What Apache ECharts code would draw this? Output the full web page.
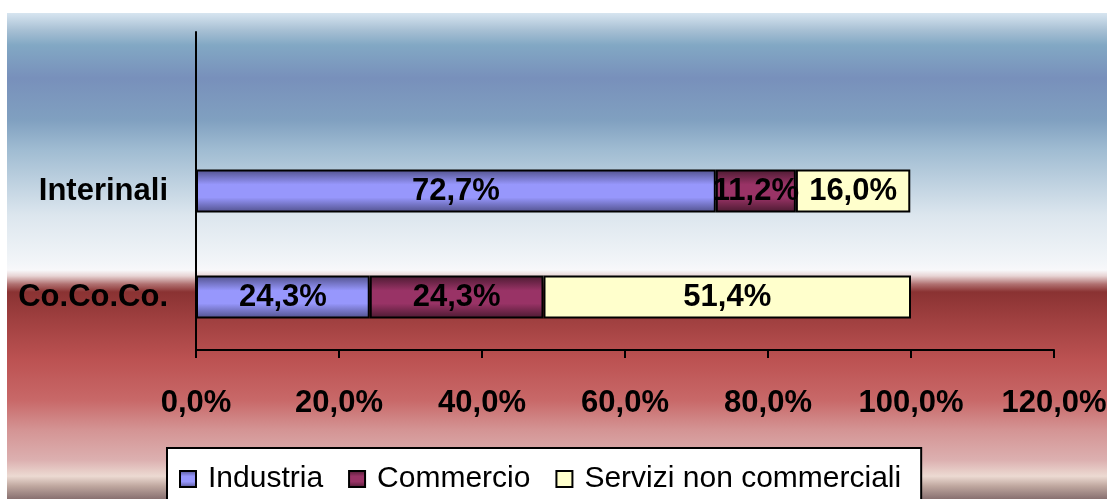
<!DOCTYPE html>
<html>
<head>
<meta charset="utf-8">
<script src="https://cdn.jsdelivr.net/npm/echarts@6/dist/echarts.min.js"></script>
<style>
    html, body { margin: 0; padding: 0; background: #fff; }
    #chart { width: 1107px; height: 499px; }
</style>
</head>
<body>
<div id="chart"></div>
<script>
    // categories bottom -> top
    var categories = ['Co.Co.Co.', 'Interinali'];
    var industria = [24.3, 72.7];
    var commercio = [24.3, 11.2];
    var servizi = [51.4, 16.0];
    var seriesNames = ['Industria', 'Commercio', 'Servizi non commerciali'];

    var FONT = '"Liberation Sans", Arial, sans-serif';

    function pct(v) {
        return v.toFixed(1).replace('.', ',') + '%';
    }

    function tube(dark, light) {
        return new echarts.graphic.LinearGradient(0, 0, 0, 1, [
            { offset: 0, color: dark },
            { offset: 0.35, color: light },
            { offset: 0.65, color: light },
            { offset: 1, color: dark }
        ]);
    }

    function barSeries(name, data, color) {
        return {
            name: name,
            type: 'bar',
            stack: 'tot',
            data: data,
            barWidth: 43,
            itemStyle: { color: color, borderColor: '#000', borderWidth: 2 },
            label: {
                show: true,
                position: 'inside',
                formatter: function (p) { return pct(p.value); },
                color: '#000',
                fontFamily: FONT,
                fontWeight: 'bold',
                fontSize: 31
            }
        };
    }

    var dom = echarts.init(document.getElementById('chart'));
    var option = {
        backgroundColor: '#fff',
        animation: false,
        graphic: [{
            type: 'rect',
            z: -10,
            silent: true,
            shape: { x: 7, y: 13, width: 1100, height: 486 },
            style: {
                fill: new echarts.graphic.LinearGradient(0, 0, 0, 1, [
                    { offset: 0, color: '#d7e5f0' },
                    { offset: 0.035, color: '#a8c0d4' },
                    { offset: 0.066, color: '#82a8c4' },
                    { offset: 0.134, color: '#7890bb' },
                    { offset: 0.22, color: '#80a0c0' },
                    { offset: 0.282, color: '#a0bcd2' },
                    { offset: 0.416, color: '#dce6ee' },
                    { offset: 0.512, color: '#f2f5f8' },
                    { offset: 0.529, color: '#f8f8fa' },
                    { offset: 0.541, color: '#e8d4d4' },
                    { offset: 0.558, color: '#b07070' },
                    { offset: 0.574, color: '#8a3232' },
                    { offset: 0.632, color: '#a04040' },
                    { offset: 0.714, color: '#bc5252' },
                    { offset: 0.796, color: '#c86868' },
                    { offset: 0.858, color: '#d49494' },
                    { offset: 0.92, color: '#dcb0b0' },
                    { offset: 0.953, color: '#ecdad2' },
                    { offset: 0.973, color: '#c0a8a0' },
                    { offset: 1, color: '#887070' }
                ])
            }
        }],
        grid: { left: 196, right: 53, top: 32, bottom: 149, outerBoundsMode: 'none' },
        legend: {
            data: seriesNames,
            left: 167,
            top: 448,
            icon: 'rect',
            itemWidth: 16,
            itemHeight: 16,
            itemGap: 25,
            padding: [15, 20, 30, 12],
            backgroundColor: '#fff',
            borderColor: '#000',
            borderWidth: 2,
            borderRadius: 0,
            itemStyle: { borderColor: '#000', borderWidth: 2 },
            textStyle: {
                fontFamily: FONT,
                fontSize: 30,
                color: '#000',
                lineHeight: 32,
                padding: [0, 0, 0, 7]
            }
        },
        xAxis: {
            type: 'value',
            min: 0,
            max: 120,
            interval: 20,
            axisLine: { show: true, lineStyle: { color: '#000', width: 2 } },
            axisTick: { show: true, length: 8, lineStyle: { color: '#000', width: 2 } },
            splitLine: { show: false },
            axisLabel: {
                margin: 38,
                formatter: function (v) { return pct(v); },
                color: '#000',
                fontFamily: FONT,
                fontWeight: 'bold',
                fontSize: 31
            }
        },
        yAxis: {
            type: 'category',
            data: categories,
            max: 2,
            axisLine: { show: true, lineStyle: { color: '#000', width: 2 } },
            axisTick: { show: false },
            axisLabel: {
                margin: 28,
                color: '#000',
                fontFamily: FONT,
                fontWeight: 'bold',
                fontSize: 31
            }
        },
        series: [
            barSeries(seriesNames[0], industria, tube('#50508a', '#9797fc')),
            barSeries(seriesNames[1], commercio, tube('#4a1a30', '#993366')),
            barSeries(seriesNames[2], servizi, '#ffffcc')
        ]
    };
    dom.setOption(option);
</script>
</body>
</html>
